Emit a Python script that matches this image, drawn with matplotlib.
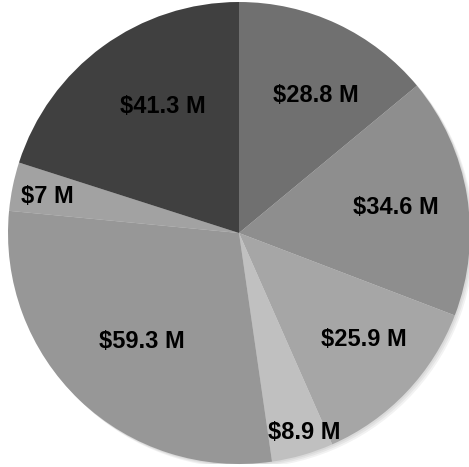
import matplotlib
matplotlib.use("Agg")
import matplotlib.pyplot as plt
import numpy as np

values = [28.8, 34.6, 25.9, 8.9, 59.3, 7, 41.3]
labels = ["$28.8 M", "$34.6 M", "$25.9 M", "$8.9 M", "$59.3 M", "$7 M", "$41.3 M"]
colors = ["#707070", "#8e8e8e", "#a6a6a6", "#c0c0c0", "#979797", "#a2a2a2", "#404040"]

# label placement (style): radial fraction and clockwise angle offset (deg)
label_r = [0.68, 0.69, 0.71, 0.91, 0.63, 0.845, 0.64]
label_da = [4, 0, -3, -2, -2, -1, 5]

W, H = 469, 467
fig = plt.figure(figsize=(W / 100, H / 100), dpi=100)
R = 231
cx, cy = 239, 233
ax = fig.add_axes([(cx - R) / W, (H - cy - R) / H, 2 * R / W, 2 * R / H])

# soft shadow
for i, a in enumerate([0.05, 0.05, 0.05]):
    c = plt.Circle((0.006 * (i + 1), -0.006 * (i + 1)), 1.0, color="black", alpha=a, lw=0)
    ax.add_patch(c)

wedges, _ = ax.pie(values, colors=colors, startangle=90, counterclock=False,
                   radius=1.0, wedgeprops=dict(linewidth=0))
ax.set_xlim(-1, 1)
ax.set_ylim(-1, 1)
ax.set_aspect("equal")
ax.axis("off")

for w, lab, r, da in zip(wedges, labels, label_r, label_da):
    mid = np.deg2rad((w.theta1 + w.theta2) / 2 - da)
    ax.text(r * np.cos(mid), r * np.sin(mid), lab, ha="center", va="center",
            fontsize=17, fontweight="bold", family="Liberation Sans", color="black")

fig.savefig("out.png", dpi=100)
